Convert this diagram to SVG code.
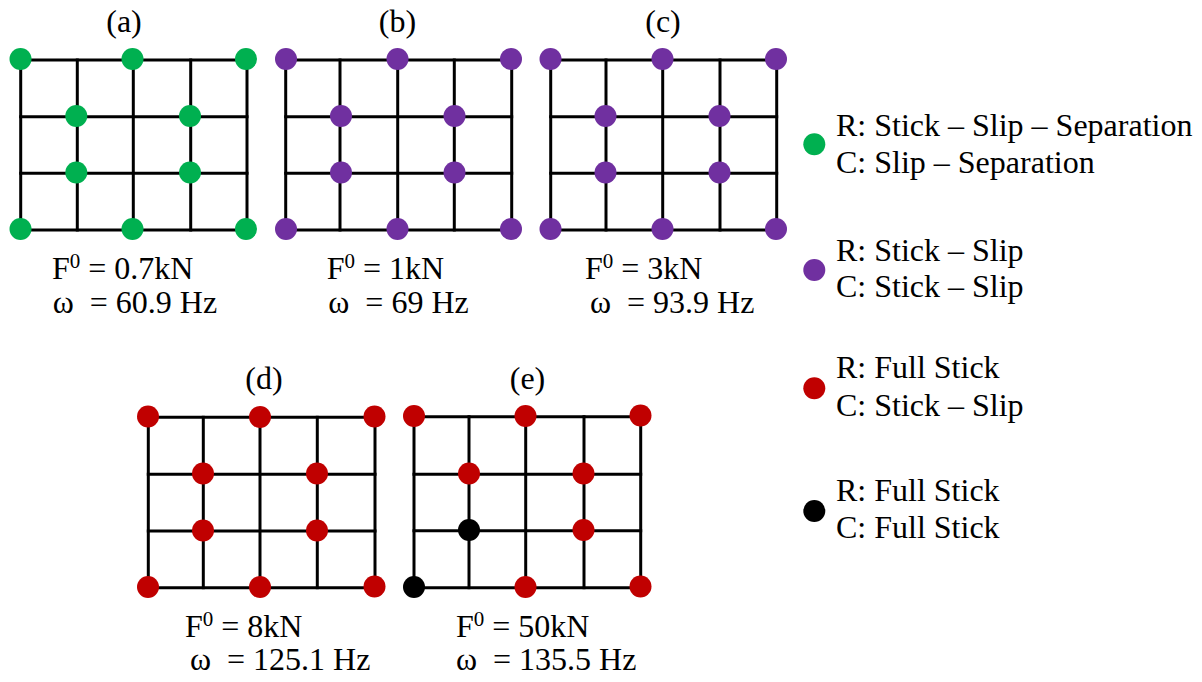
<svg xmlns="http://www.w3.org/2000/svg" width="1202" height="682" viewBox="0 0 1202 682">
<style>
text{font-family:'Liberation Serif','DejaVu Serif',serif;font-size:32px;fill:#000;white-space:pre}
.t{text-anchor:middle}
.g line{stroke:#000;stroke-width:3;stroke-linecap:square}
.G{fill:#00B050}.P{fill:#7030A0}.R{fill:#C00000}.K{fill:#000}
</style>
<defs>
<circle id="d" r="11"/>
</defs>
<rect width="1202" height="682" fill="#fff"/>

<g id="connectors">
<g class="g" id="grid-a">
<line x1="20.7" y1="60" x2="247" y2="60"/><line x1="20.7" y1="116.7" x2="247" y2="116.7"/><line x1="20.7" y1="173.3" x2="247" y2="173.3"/><line x1="20.7" y1="230" x2="247" y2="230"/>
<line x1="20.7" y1="60" x2="20.7" y2="230"/><line x1="77.3" y1="60" x2="77.3" y2="230"/><line x1="133.3" y1="60" x2="133.3" y2="230"/><line x1="190.7" y1="60" x2="190.7" y2="230"/><line x1="247" y1="60" x2="247" y2="230"/>
</g>
<g class="g" id="grid-b">
<line x1="285.7" y1="60" x2="511.7" y2="60"/><line x1="285.7" y1="116.7" x2="511.7" y2="116.7"/><line x1="285.7" y1="173.3" x2="511.7" y2="173.3"/><line x1="285.7" y1="230" x2="511.7" y2="230"/>
<line x1="285.7" y1="60" x2="285.7" y2="230"/><line x1="340" y1="60" x2="340" y2="230"/><line x1="397.7" y1="60" x2="397.7" y2="230"/><line x1="454.3" y1="60" x2="454.3" y2="230"/><line x1="511.7" y1="60" x2="511.7" y2="230"/>
</g>
<g class="g" id="grid-c">
<line x1="550.7" y1="60" x2="776.7" y2="60"/><line x1="550.7" y1="116.7" x2="776.7" y2="116.7"/><line x1="550.7" y1="173.3" x2="776.7" y2="173.3"/><line x1="550.7" y1="230" x2="776.7" y2="230"/>
<line x1="550.7" y1="60" x2="550.7" y2="230"/><line x1="606" y1="60" x2="606" y2="230"/><line x1="662.7" y1="60" x2="662.7" y2="230"/><line x1="720" y1="60" x2="720" y2="230"/><line x1="776.7" y1="60" x2="776.7" y2="230"/>
</g>
<g class="g" id="grid-d">
<line x1="148.3" y1="417.3" x2="375" y2="417.3"/><line x1="148.3" y1="474.3" x2="375" y2="474.3"/><line x1="148.3" y1="531" x2="375" y2="531"/><line x1="148.3" y1="587.7" x2="375" y2="587.7"/>
<line x1="148.3" y1="417.3" x2="148.3" y2="587.7"/><line x1="203.3" y1="417.3" x2="203.3" y2="587.7"/><line x1="260" y1="417.3" x2="260" y2="587.7"/><line x1="317.3" y1="417.3" x2="317.3" y2="587.7"/><line x1="375" y1="417.3" x2="375" y2="587.7"/>
</g>
<g class="g" id="grid-e">
<line x1="414" y1="416.7" x2="640.7" y2="416.7"/><line x1="414" y1="474.3" x2="640.7" y2="474.3"/><line x1="414" y1="530.7" x2="640.7" y2="530.7"/><line x1="414" y1="587.7" x2="640.7" y2="587.7"/>
<line x1="414" y1="416.7" x2="414" y2="587.7"/><line x1="469" y1="416.7" x2="469" y2="587.7"/><line x1="525.7" y1="416.7" x2="525.7" y2="587.7"/><line x1="584" y1="416.7" x2="584" y2="587.7"/><line x1="640.7" y1="416.7" x2="640.7" y2="587.7"/>
</g>
</g>

<g id="panel-a">
<text class="t" x="124" y="32">(a)</text>
<g class="G">
<use href="#d" x="20.5" y="59"/><use href="#d" x="132.5" y="59"/><use href="#d" x="246" y="59"/>
<use href="#d" x="76.3" y="116"/><use href="#d" x="190" y="116"/>
<use href="#d" x="76.3" y="172.5"/><use href="#d" x="190" y="172.5"/>
<use href="#d" x="20.5" y="229"/><use href="#d" x="132.5" y="229"/><use href="#d" x="246" y="229"/>
</g>
<text x="52" y="279">F<tspan font-size="21" dy="-11">0</tspan><tspan dy="11"> = 0.7kN</tspan></text>
<text x="52.7" y="313">ω  = 60.9 Hz</text>
</g>

<g id="panel-b">
<text class="t" x="397.5" y="32">(b)</text>
<g class="P">
<use href="#d" x="286" y="59"/><use href="#d" x="397.5" y="59"/><use href="#d" x="511" y="59"/>
<use href="#d" x="341" y="116"/><use href="#d" x="454.5" y="116"/>
<use href="#d" x="341" y="172.5"/><use href="#d" x="454.5" y="172.5"/>
<use href="#d" x="286" y="229"/><use href="#d" x="397.5" y="229"/><use href="#d" x="511" y="229"/>
</g>
<text x="326.7" y="279">F<tspan font-size="21" dy="-11">0</tspan><tspan dy="11"> = 1kN</tspan></text>
<text x="328.3" y="313">ω  = 69 Hz</text>
</g>

<g id="panel-c">
<text class="t" x="663" y="32">(c)</text>
<g class="P">
<use href="#d" x="550.5" y="59"/><use href="#d" x="662.5" y="59"/><use href="#d" x="776" y="59"/>
<use href="#d" x="605.5" y="116"/><use href="#d" x="719.5" y="116"/>
<use href="#d" x="605.5" y="172.5"/><use href="#d" x="719.5" y="172.5"/>
<use href="#d" x="550.5" y="229"/><use href="#d" x="662.5" y="229"/><use href="#d" x="776" y="229"/>
</g>
<text x="585" y="279">F<tspan font-size="21" dy="-11">0</tspan><tspan dy="11"> = 3kN</tspan></text>
<text x="590" y="313">ω  = 93.9 Hz</text>
</g>

<g id="panel-d">
<text class="t" x="264" y="389">(d)</text>
<g class="R">
<use href="#d" x="148" y="416.5"/><use href="#d" x="260" y="417"/><use href="#d" x="374.5" y="416.5"/>
<use href="#d" x="203" y="473.5"/><use href="#d" x="317" y="473.5"/>
<use href="#d" x="203" y="530.5"/><use href="#d" x="317" y="530.5"/>
<use href="#d" x="148" y="587"/><use href="#d" x="260" y="587"/><use href="#d" x="374.5" y="586.5"/>
</g>
<text x="185" y="637">F<tspan font-size="21" dy="-11">0</tspan><tspan dy="11"> = 8kN</tspan></text>
<text x="190" y="670">ω  = 125.1 Hz</text>
</g>

<g id="panel-e">
<text class="t" x="527.5" y="389">(e)</text>
<g class="R">
<use href="#d" x="414" y="416"/><use href="#d" x="525.5" y="416"/><use href="#d" x="640.5" y="415.5"/>
<use href="#d" x="469" y="473.5"/><use href="#d" x="583.5" y="473.5"/>
<use href="#d" x="583.5" y="530"/>
<use href="#d" x="525.5" y="587"/><use href="#d" x="640.5" y="586.5"/>
</g>
<g class="K">
<use href="#d" x="469" y="530"/><use href="#d" x="414" y="587"/>
</g>
<text x="456" y="637">F<tspan font-size="21" dy="-11">0</tspan><tspan dy="11"> = 50kN</tspan></text>
<text x="456" y="670">ω  = 135.5 Hz</text>
</g>

<g id="legend-green">
<use href="#d" class="G" x="814.3" y="144.3"/>
<text x="836" y="135.7">R: Stick – Slip – Separation</text>
<text x="836" y="173.3">C: Slip – Separation</text>
</g>
<g id="legend-purple">
<use href="#d" class="P" x="814.3" y="270"/>
<text x="836" y="260.7">R: Stick – Slip</text>
<text x="836" y="297.3">C: Stick – Slip</text>
</g>
<g id="legend-red">
<use href="#d" class="R" x="814.3" y="388.3"/>
<text x="836" y="378.3">R: Full Stick</text>
<text x="836" y="416">C: Stick – Slip</text>
</g>
<g id="legend-black">
<use href="#d" class="K" x="814.3" y="511"/>
<text x="836" y="501">R: Full Stick</text>
<text x="836" y="538.3">C: Full Stick</text>
</g>
</svg>
